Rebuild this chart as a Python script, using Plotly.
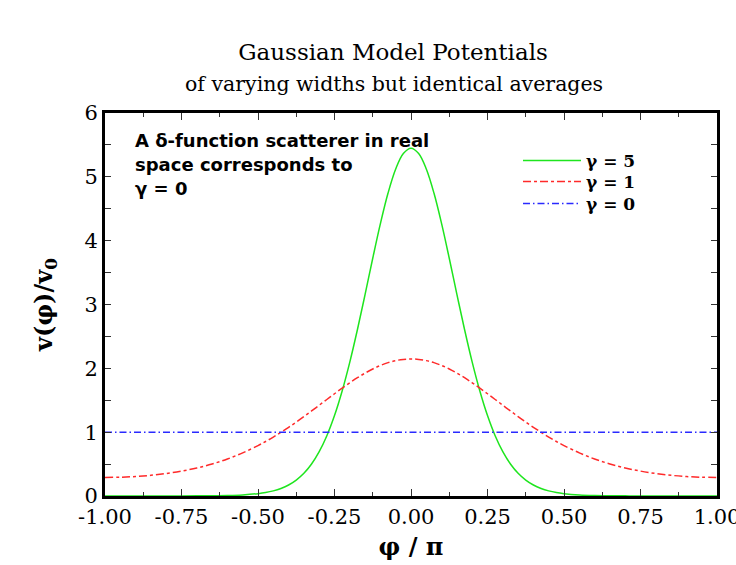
import plotly.graph_objects as go

# phi / pi sample positions
phi = [-1.0, -0.95, -0.9, -0.85, -0.8, -0.75, -0.7, -0.65, -0.6, -0.55, -0.5,
       -0.475, -0.45, -0.425, -0.4, -0.375, -0.35, -0.325, -0.3, -0.275, -0.25,
       -0.225, -0.2, -0.175, -0.15, -0.125, -0.1, -0.075, -0.05, -0.025, 0.0,
       0.025, 0.05, 0.075, 0.1, 0.125, 0.15, 0.175, 0.2, 0.225, 0.25,
       0.275, 0.3, 0.325, 0.35, 0.375, 0.4, 0.425, 0.45, 0.475, 0.5,
       0.55, 0.6, 0.65, 0.7, 0.75, 0.8, 0.85, 0.9, 0.95, 1.0]

v_gamma5 = [0.0002, 0.0003, 0.0003, 0.0004, 0.0006, 0.001, 0.002, 0.004, 0.008, 0.017, 0.037,
            0.054, 0.080, 0.118, 0.172, 0.249, 0.355, 0.501, 0.694, 0.944, 1.260,
            1.645, 2.097, 2.608, 3.159, 3.724, 4.266, 4.746, 5.123, 5.366, 5.449,
            5.366, 5.123, 4.746, 4.266, 3.724, 3.159, 2.608, 2.097, 1.645, 1.260,
            0.944, 0.694, 0.501, 0.355, 0.249, 0.172, 0.118, 0.080, 0.054, 0.037,
            0.017, 0.008, 0.004, 0.002, 0.001, 0.0006, 0.0004, 0.0003, 0.0003, 0.0002]

v_gamma1 = [0.291, 0.294, 0.305, 0.324, 0.352, 0.390, 0.439, 0.502, 0.580, 0.676, 0.790,
            0.854, 0.924, 0.998, 1.076, 1.158, 1.244, 1.332, 1.422, 1.512, 1.602,
            1.690, 1.774, 1.853, 1.925, 1.990, 2.045, 2.089, 2.121, 2.140, 2.147,
            2.140, 2.121, 2.089, 2.045, 1.990, 1.925, 1.853, 1.774, 1.690, 1.602,
            1.512, 1.422, 1.332, 1.244, 1.158, 1.076, 0.998, 0.924, 0.854, 0.790,
            0.676, 0.580, 0.502, 0.439, 0.390, 0.352, 0.324, 0.305, 0.294, 0.291]

phi_gamma0 = [-1.0, 1.0]
v_gamma0 = [1.0, 1.0]

x_ticks = [-1.0, -0.75, -0.5, -0.25, 0.0, 0.25, 0.5, 0.75, 1.0]
x_tick_text = ["-1.00", "-0.75", "-0.50", "-0.25", "0.00", "0.25", "0.50", "0.75", "1.00"]
y_ticks = [0, 1, 2, 3, 4, 5, 6]
y_tick_text = ["0", "1", "2", "3", "4", "5", "6"]

SERIF = "DejaVu Serif, Liberation Serif, serif"
SANS = "DejaVu Sans, Liberation Sans, sans-serif"

fig = go.Figure()
fig.add_trace(go.Scatter(x=phi, y=v_gamma5, mode="lines", name="<b>γ = 5</b>", legend="legend",
                         line=dict(color="#1ee51e", width=1.5, shape="spline")))
fig.add_trace(go.Scatter(x=phi, y=v_gamma1, mode="lines", name="<b>γ = 1</b>", legend="legend2",
                         line=dict(color="#ff2a2a", width=1.5, dash="8px,3px,3px,3px", shape="spline")))
fig.add_trace(go.Scatter(x=phi_gamma0, y=v_gamma0, mode="lines", name="<b>γ = 0</b>", legend="legend3",
                         line=dict(color="#2a2aff", width=1.5, dash="7px,3px,1.5px,3px")))

axis_common = dict(showline=True, linecolor="black", linewidth=3, mirror="allticks",
                   ticks="inside", tickcolor="#333333", tickwidth=1,
                   showgrid=False, zeroline=False, automargin=False,
                   ticklabeloverflow="allow",
                   tickfont=dict(family=SERIF, size=21, color="black"))

fig.update_xaxes(range=[-1, 1], tickvals=x_ticks, ticktext=x_tick_text, ticklen=7,
                 minor=dict(dtick=0.125, ticks="inside", ticklen=4, tickcolor="#333333", tickwidth=1, showgrid=False),
                 title=dict(text="<b>φ / π</b>", font=dict(family=SERIF, size=24, color="black"), standoff=10),
                 **axis_common)
fig.update_yaxes(range=[0, 6], tickvals=y_ticks, ticktext=y_tick_text, ticklen=6,
                 minor=dict(dtick=0.5, ticks="inside", ticklen=6, tickcolor="#333333", tickwidth=1, showgrid=False),
                 title=dict(text="<b>v(φ)/v<sub>0</sub></b>", font=dict(family=SERIF, size=24, color="black"), standoff=26),
                 **axis_common)

legend_common = dict(x=(518 - 105) / 612, xanchor="left", yanchor="middle", bgcolor="rgba(0,0,0,0)",
                     font=dict(family=SERIF, size=17, color="black"), itemwidth=58)

fig.update_layout(
    width=736, height=565,
    margin=dict(l=105, r=19, t=113, b=69),
    paper_bgcolor="white", plot_bgcolor="white",
    title=dict(text="Gaussian Model Potentials", x=(393 - 105) / 612, xref="paper", y=1 - 52 / 565,
               yref="container", yanchor="middle", xanchor="center",
               font=dict(family=SERIF, size=23, color="black")),
    legend=dict(y=(496 - 161) / 383, **legend_common),
    legend2=dict(y=(496 - 182) / 383, **legend_common),
    legend3=dict(y=(496 - 204) / 383, **legend_common),
    showlegend=True,
)

fig.add_annotation(text="of varying widths but identical averages", xref="paper", yref="paper",
                   x=(394 - 105) / 612, y=(496 - 84) / 383, xanchor="center", yanchor="middle", showarrow=False,
                   font=dict(family=SERIF, size=20.5, color="black"))

note_lines = ["<b>A δ-function scatterer in real</b>", "<b>space corresponds to</b>", "<b>γ = 0</b>"]
note_y = [(496 - 140) / 383, (496 - 164) / 383, (496 - 188) / 383]
for t, yy in zip(note_lines, note_y):
    fig.add_annotation(text=t, xref="paper", yref="paper", x=(133 - 105) / 612, y=yy,
                       xanchor="left", yanchor="middle",
                       showarrow=False, font=dict(family=SANS, size=18, color="black"))

fig.write_html("out.html")
